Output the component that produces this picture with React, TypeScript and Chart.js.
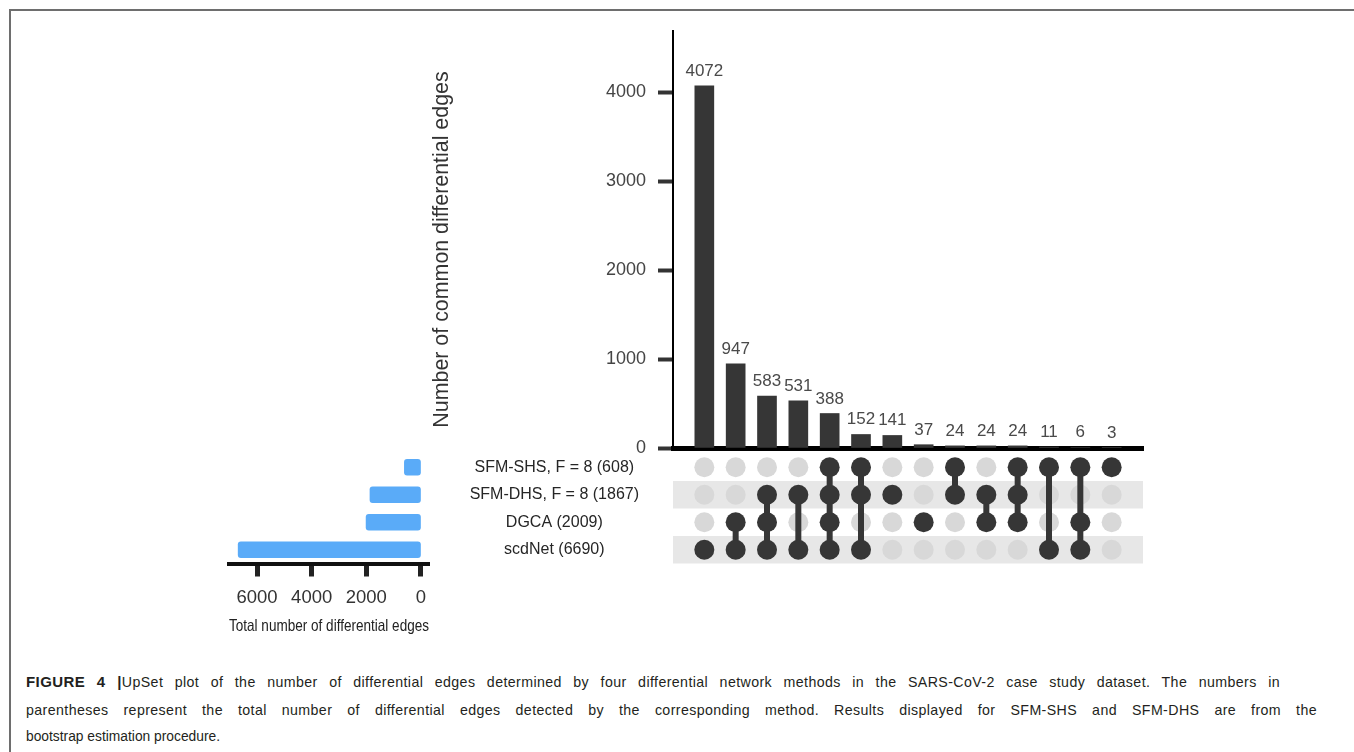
import React, { useEffect, useRef } from 'react';
import { Chart, registerables } from 'chart.js';

Chart.register(...registerables);

const FONT = "'Liberation Sans', Arial, Helvetica, sans-serif";

// ---------- data ----------
const setNames = ['SFM-SHS, F = 8 (608)', 'SFM-DHS, F = 8 (1867)', 'DGCA (2009)', 'scdNet (6690)'];
const setSizes = [608, 1867, 2009, 6690];
const intersectionSizes = [4072, 947, 583, 531, 388, 152, 141, 37, 24, 24, 24, 11, 6, 3];
// indices into setNames that belong to each intersection (column)
const intersectionMembers = [
  [3], [2, 3], [1, 2, 3], [1, 3], [0, 1, 2, 3], [0, 1, 3], [1], [2], [0, 1], [1, 2], [0, 1, 2], [0, 3], [0, 2, 3], [0],
];
const countTicks = [0, 1000, 2000, 3000, 4000];
const sizeTicks = [0, 2000, 4000, 6000];
const shadedRows = [1, 3];

const countAxisTitle = 'Number of common differential edges';
const sizeAxisTitle = 'Total number of differential edges';

const DARK = '#363636';
const GREY_DOT = '#d8d8d8';
const BAND = '#e7e7e7';
const BLUE = '#5aabf8';

Chart.defaults.font.family = FONT;

const barLabelPlugin = {
  id: 'barLabels',
  afterDatasetsDraw(chart: any) {
    const ctx = chart.ctx;
    const meta = chart.getDatasetMeta(0);
    ctx.save();
    ctx.font = `17px ${FONT}`;
    ctx.fillStyle = '#4a4a4a';
    ctx.textAlign = 'center';
    ctx.textBaseline = 'alphabetic';
    meta.data.forEach((el: any, i: number) => {
      ctx.fillText(String(intersectionSizes[i]), el.x, el.y - 10);
    });
    ctx.restore();
  },
};

// y-axis title of the intersection chart, centred on the axis like the reference
const countTitlePlugin = {
  id: 'countTitle',
  afterDraw(chart: any) {
    const ctx = chart.ctx;
    const y = chart.scales.y;
    ctx.save();
    ctx.translate(y.left + 22, (y.top + y.bottom) / 2 + 10);
    ctx.rotate(-Math.PI / 2);
    ctx.font = `21.4px ${FONT}`;
    ctx.fillStyle = '#333';
    ctx.textAlign = 'center';
    ctx.textBaseline = 'middle';
    ctx.fillText(countAxisTitle, 0, 0);
    ctx.restore();
  },
};

const bandPlugin = {
  id: 'bands',
  beforeDatasetsDraw(chart: any) {
    const ctx = chart.ctx;
    const y = chart.scales.y;
    const area = chart.chartArea;
    ctx.save();
    ctx.fillStyle = BAND;
    shadedRows.forEach((r) => {
      const y1 = y.getPixelForValue(r - 0.5);
      const y2 = y.getPixelForValue(r + 0.5);
      ctx.fillRect(area.left, Math.min(y1, y2), area.right - area.left, Math.abs(y2 - y1));
    });
    ctx.restore();
  },
};

function useChart(ref: React.RefObject<HTMLCanvasElement>, makeConfig: () => any) {
  useEffect(() => {
    if (!ref.current) return;
    const chart = new Chart(ref.current, makeConfig());
    return () => chart.destroy();
  }, []);
}

export default function App() {
  const topRef = useRef<HTMLCanvasElement>(null);
  const matRef = useRef<HTMLCanvasElement>(null);
  const leftRef = useRef<HTMLCanvasElement>(null);

  // Intersection bar chart
  useChart(topRef, () => ({
    type: 'bar',
    data: {
      datasets: [
        {
          data: intersectionSizes.map((v, i) => ({ x: i, y: v })),
          backgroundColor: DARK,
          barThickness: 19,
        },
      ],
    },
    options: {
      animation: false,
      responsive: false,
      devicePixelRatio: 1,
      layout: { padding: { top: 31, right: 17, left: 0, bottom: 0 } },
      plugins: { legend: { display: false }, tooltip: { enabled: false } },
      scales: {
        x: {
          type: 'linear',
          min: -1,
          max: 14,
          offset: false,
          ticks: { display: false },
          grid: { display: false, offset: false },
          border: { display: true, color: '#000', width: 5 },
          afterFit: (s: any) => {
            s.height = 24;
          },
        },
        y: {
          type: 'linear',
          min: 0,
          max: 4690,
          afterBuildTicks: (s: any) => {
            s.ticks = countTicks.map((v) => ({ value: v }));
          },
          ticks: { font: { size: 18 }, color: '#444', padding: 12, callback: (v: number) => String(v) },
          grid: { drawOnChartArea: false, drawTicks: true, tickLength: 15, tickWidth: 4, tickColor: '#333' },
          border: { display: true, color: '#000', width: 2 },
          afterFit: (s: any) => {
            s.width = 253;
          },
        },
      },
    },
    plugins: [barLabelPlugin, countTitlePlugin],
  }));

  // Membership matrix
  useChart(matRef, () => {
    const active: any[] = [];
    const inactive: any[] = [];
    const lines: any[] = [];
    intersectionMembers.forEach((members, col) => {
      setNames.forEach((_, row) => {
        (members.includes(row) ? active : inactive).push({ x: col, y: row });
      });
      if (members.length > 1) {
        lines.push({
          data: [
            { x: col, y: Math.min(...members) },
            { x: col, y: Math.max(...members) },
          ],
          showLine: true,
          borderColor: DARK,
          borderWidth: 6,
          pointRadius: 0,
          order: 1,
          clip: false,
        });
      }
    });
    return {
      type: 'scatter',
      data: {
        datasets: [
          { data: active, backgroundColor: DARK, borderWidth: 0, pointRadius: 10, order: 0, clip: false },
          ...lines,
          { data: inactive, backgroundColor: GREY_DOT, borderWidth: 0, pointRadius: 10, order: 2, clip: false },
        ],
      },
      options: {
        animation: false,
        responsive: false,
        devicePixelRatio: 1,
        layout: { padding: { top: 13.5, right: 17, bottom: 16.5, left: 0 } },
        plugins: { legend: { display: false }, tooltip: { enabled: false } },
        scales: {
          x: { type: 'linear', min: -1, max: 14, display: false },
          y: {
            type: 'linear',
            min: -0.5,
            max: 3.5,
            reverse: true,
            afterBuildTicks: (s: any) => {
              s.ticks = setNames.map((_, i) => ({ value: i }));
            },
            ticks: {
              callback: (v: number) => setNames[v],
              crossAlign: 'center',
              padding: 0,
              font: { size: 16 },
              color: '#262626',
              autoSkip: false,
            },
            grid: {
              display: true,
              drawOnChartArea: false,
              drawTicks: true,
              tickLength: 34,
              tickColor: 'rgba(0,0,0,0)',
            },
            border: { display: false },
            afterFit: (s: any) => {
              s.width = 213;
            },
          },
        },
      },
      plugins: [bandPlugin],
    };
  });

  // Set size bar chart
  useChart(leftRef, () => ({
    type: 'bar',
    data: {
      datasets: [
        {
          data: setSizes.map((v, i) => ({ x: v, y: i })),
          backgroundColor: BLUE,
          barThickness: 16,
          borderRadius: 3,
          borderSkipped: false,
        },
      ],
    },
    options: {
      indexAxis: 'y',
      animation: false,
      responsive: false,
      devicePixelRatio: 1,
      layout: { padding: { top: 13.5, right: 21, left: 29, bottom: 0 } },
      plugins: { legend: { display: false }, tooltip: { enabled: false } },
      scales: {
        x: {
          type: 'linear',
          min: -293,
          max: 7025,
          reverse: true,
          afterBuildTicks: (s: any) => {
            s.ticks = sizeTicks.map((v) => ({ value: v }));
          },
          ticks: { font: { size: 18.5 }, color: '#333', padding: 10, maxRotation: 0, callback: (v: number) => String(v) },
          grid: { drawOnChartArea: false, tickLength: 13, tickWidth: 5, tickColor: '#222' },
          border: { display: true, color: '#111', width: 4 },
          title: {
            display: true,
            text: sizeAxisTitle,
            font: { size: 16.5 },
            color: '#222',
            padding: { top: 0, bottom: 4 },
          },
          afterFit: (s: any) => {
            s.height = 76.5;
          },
        },
        y: {
          type: 'linear',
          min: -0.5,
          max: 3.5,
          reverse: true,
          display: false,
          offset: false,
          grid: { offset: false },
        },
      },
    },
  }));

  const capLine: React.CSSProperties = {
    position: 'absolute',
    left: 26,
    whiteSpace: 'nowrap',
    fontFamily: FONT,
    fontSize: 14.2,
    lineHeight: '20px',
    color: '#231f20',
  };

  return (
    <div
      style={{
        position: 'absolute',
        left: 0,
        top: 0,
        width: 1354,
        height: 752,
        background: '#fff',
        overflow: 'hidden',
      }}
    >
      <div
        style={{
          position: 'absolute',
          left: 9,
          top: 9,
          width: 1360,
          height: 760,
          borderTop: '2px solid #6e6e6e',
          borderLeft: '2px solid #6e6e6e',
        }}
      />
      <canvas
        ref={topRef}
        width={740}
        height={472}
        style={{ position: 'absolute', left: 420, top: 0, width: 740, height: 472 }}
      />
      <canvas
        ref={matRef}
        width={700}
        height={140}
        style={{ position: 'absolute', left: 460, top: 440, width: 700, height: 140 }}
      />
      <canvas
        ref={leftRef}
        width={250}
        height={200}
        style={{ position: 'absolute', left: 200, top: 440, width: 250, height: 200 }}
      />
      <div
        style={{
          ...capLine,
          top: 672,
          width: 1254,
          whiteSpace: 'normal',
          letterSpacing: '0.4px',
          textAlign: 'justify',
          textAlignLast: 'justify',
        }}
      >
        <b style={{ fontSize: 15 }}>FIGURE 4 |</b>UpSet plot of the number of differential edges determined by four differential network methods in the SARS-CoV-2 case study dataset. The numbers in
      </div>
      <div
        style={{
          ...capLine,
          top: 700,
          width: 1291,
          whiteSpace: 'normal',
          letterSpacing: '0.4px',
          textAlign: 'justify',
          textAlignLast: 'justify',
        }}
      >
        parentheses represent the total number of differential edges detected by the corresponding method. Results displayed for SFM-SHS and SFM-DHS are from the
      </div>
      <div style={{ ...capLine, top: 727, fontSize: 13.8 }}>bootstrap estimation procedure.</div>
    </div>
  );
}
